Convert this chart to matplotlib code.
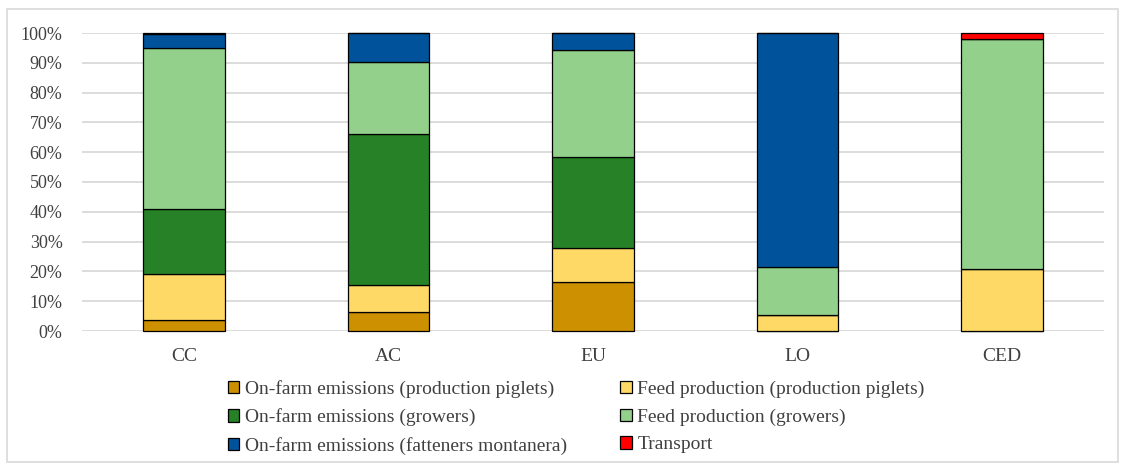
import numpy as np
import matplotlib
matplotlib.use('Agg')
from matplotlib import pyplot as plt
from matplotlib.patches import Rectangle
from matplotlib.ticker import PercentFormatter

plt.rcParams['font.family'] = ['Liberation Serif', 'DejaVu Serif']
plt.rcParams['text.color'] = '#404040'
plt.rcParams['xtick.color'] = '#404040'
plt.rcParams['ytick.color'] = '#404040'

farms = ['CC', 'AC', 'EU', 'LO', 'CED']

onfarm_piglets = [3.7, 6.4, 16.4, 0.0, 0.0]
feed_piglets = [15.4, 9.0, 11.5, 5.4, 20.8]
onfarm_growers = [21.8, 50.7, 30.5, 0.0, 0.0]
feed_growers = [54.0, 24.1, 35.9, 16.1, 77.3]
onfarm_fatteners = [4.6, 9.8, 5.7, 78.5, 0.0]
transport = [0.5, 0.0, 0.0, 0.0, 1.9]

series = [
    ('On-farm emissions (production piglets)', onfarm_piglets, '#CC9000'),
    ('Feed production (production piglets)', feed_piglets, '#FFD966'),
    ('On-farm emissions (growers)', onfarm_growers, '#278227'),
    ('Feed production (growers)', feed_growers, '#93D08B'),
    ('On-farm emissions (fatteners montanera)', onfarm_fatteners, '#00539B'),
    ('Transport', transport, '#FF0000'),
]

fig = plt.figure(figsize=(11.21, 4.66), dpi=100)
ax = fig.add_axes([82 / 1121, 1 - 331 / 466, 1022 / 1121, 298 / 466])

x_pos = np.arange(len(farms))
bottom = np.zeros(len(farms))
handles = []
for label, vals, color in series:
    vals = np.array(vals)
    b = ax.bar(x_pos, vals, 0.4, bottom=bottom, color=color, edgecolor='black',
               linewidth=0.9, label=label, clip_on=False, zorder=3)
    handles.append(b)
    bottom += vals

ax.set_xlim(-0.5, len(farms) - 0.5)
ax.set_ylim(0, 100)
ax.set_yticks(np.arange(0, 101, 10))
ax.yaxis.set_major_formatter(PercentFormatter(decimals=0))
ax.grid(axis='y', color='#d9d9d9', linewidth=1.3, zorder=0)
ax.set_axisbelow(True)
for s in ax.spines.values():
    s.set_visible(False)
ax.tick_params(axis='both', length=0, labelsize=13)
ax.tick_params(axis='y', pad=14)
ax.tick_params(axis='x', pad=12)
ax.set_xticks(x_pos, farms)
for t in ax.get_xticklabels():
    t.set_fontsize(14)

# legend reads row by row, matplotlib fills by column
order = [0, 2, 4, 1, 3, 5]
fig.legend(handles=[handles[i] for i in order], loc='upper left',
           bbox_to_anchor=(218 / 1121, 1 - 370 / 466),
           ncol=2, frameon=False, fontsize=14, handlelength=0.6,
           handleheight=0.6, handletextpad=0.3, columnspacing=2.7,
           labelspacing=0.55, borderpad=0)

fig.patches.append(Rectangle((0.006, 0.008), 0.991, 0.972, transform=fig.transFigure,
                             fill=False, edgecolor='#d9d9d9', linewidth=1.2))

fig.savefig('out.png', dpi=100)
